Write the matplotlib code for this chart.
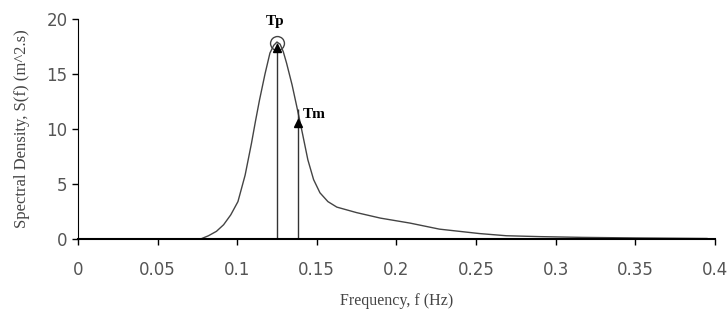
import numpy as np
import matplotlib
matplotlib.use("Agg")
import matplotlib.pyplot as plt

# ---------------------------
# Data
# ---------------------------
freq = [0.0, 0.077, 0.082, 0.087, 0.0915, 0.096, 0.1005, 0.105, 0.109, 0.1115,
        0.114, 0.1175, 0.1206, 0.123, 0.125, 0.127, 0.129, 0.131, 0.1345, 0.1375,
        0.141, 0.1444, 0.148, 0.152, 0.157, 0.1626, 0.175, 0.19, 0.2085, 0.227,
        0.252, 0.269, 0.29, 0.317, 0.35, 0.395]
density = [0.0, 0.0, 0.3, 0.7, 1.3, 2.2, 3.4, 5.8, 8.7, 10.7,
           12.6, 15.0, 16.9, 17.6, 17.9, 17.7, 17.0, 16.0, 14.0, 12.0,
           9.6, 7.2, 5.4, 4.2, 3.4, 2.9, 2.4, 1.9, 1.45, 0.9,
           0.5, 0.3, 0.22, 0.15, 0.1, 0.05]

tp_freq, tp_val = 0.125, 17.4
tm_freq, tm_val = 0.138, 10.5

x_ticks = [0, 0.05, 0.1, 0.15, 0.2, 0.25, 0.3, 0.35, 0.4]
x_tick_labels = ["0", "0.05", "0.1", "0.15", "0.2", "0.25", "0.3", "0.35", "0.4"]
y_ticks = [0, 5, 10, 15, 20]

# ---------------------------
# Figure
# ---------------------------
fig = plt.figure(figsize=(7.28, 3.20), dpi=100)
ax = fig.add_axes([0.107, 0.253, 0.875, 0.688])

ax.plot(freq, density, color="#444444", lw=1.0)

# vertical markers for Tp and Tm
ax.vlines([tp_freq, tm_freq], 0, [17.8, 11.8], color="#333333", lw=1.0)
ax.plot([tp_freq], [17.85], marker="o", ms=10, mfc="none", mec="#444444", mew=1.0)
ax.plot([tp_freq, tm_freq], [tp_val, tm_val], "^", color="black", ms=6)

ax.text(tp_freq - 0.0015, 19.8, "Tp", family="Liberation Serif", weight="bold",
        fontsize=11, ha="center", va="center")
ax.text(tm_freq + 0.0035, 11.3, "Tm", family="Liberation Serif", weight="bold",
        fontsize=11, ha="left", va="center")

ax.set_xlim(0, 0.4)
ax.set_ylim(0, 20)
ax.set_xticks(x_ticks)
ax.set_xticklabels(x_tick_labels)
ax.set_yticks(y_ticks)
ax.tick_params(direction="out", length=4, width=1, labelsize=12,
               labelcolor="#555555")
ax.tick_params(axis="x", pad=12)
ax.spines["top"].set_visible(False)
ax.spines["right"].set_visible(False)
ax.spines["bottom"].set_linewidth(1.5)

ax.set_xlabel("Frequency, f (Hz)", family="Liberation Serif", fontsize=11.5,
              color="#444444", labelpad=10)
ax.set_ylabel("Spectral Density, S(f) (m^2.s)", family="Liberation Serif",
              fontsize=12, color="#444444", labelpad=12)

fig.savefig("out.png", dpi=100, facecolor="white")
